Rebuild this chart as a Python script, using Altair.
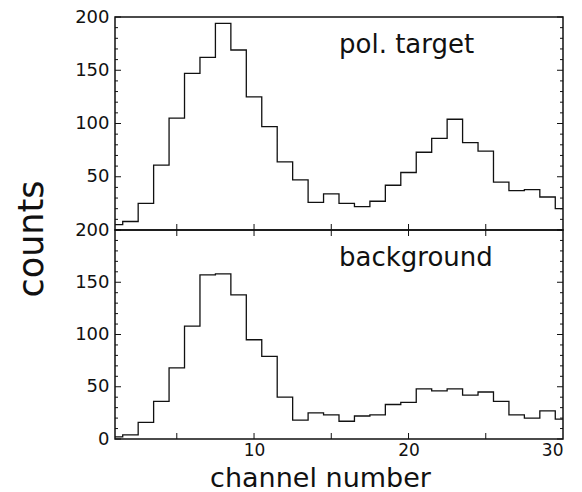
import altair as alt
import pandas as pd

# ---- data ----
CHANNELS = list(range(1, 31))
POL_TARGET = [5, 8, 25, 61, 105, 147, 162, 194, 169, 125, 97, 64, 47, 26, 34,
              25, 22, 27, 42, 54, 73, 86, 104, 82, 74, 45, 37, 38, 31, 20]
BACKGROUND = [2, 4, 16, 36, 68, 108, 157, 158, 138, 95, 79, 40, 18, 25, 23,
              17, 22, 23, 33, 35, 48, 46, 48, 42, 45, 36, 23, 20, 27, 19]

Y_MAJOR = [0, 50, 100, 150, 200]
Y_MINOR = [v for v in range(0, 201, 10) if v % 50 != 0]
X_TICKS = [5, 10, 15, 20, 25]
X_LABELS = [10, 20, 30]
TOP_LABELS = [50, 100, 150, 200]
BOT_LABELS = [0, 50, 100, 150, 200]

FONT = "DejaVu Sans"
INK = "#111111"
W = 448
H_TOP = 213
H_BOT = 209

xscale = alt.Scale(domain=[1, 30], nice=False, zero=False)
yscale = alt.Scale(domain=[0, 200], nice=False)

ymaj = pd.DataFrame({"v": Y_MAJOR})
ymin = pd.DataFrame({"v": Y_MINOR})
xt = pd.DataFrame({"v": X_TICKS})


def panel(values, label_vals, h, name, show_x, extra=None):
    df = pd.DataFrame({"channel": CHANNELS, "counts": values})
    xtitle = "channel number" if show_x else None
    if show_x:
        xax = alt.Axis(values=X_LABELS, title=xtitle, titleFontSize=27,
                       titleFont=FONT, titleFontWeight="normal", titleColor=INK,
                       titleX=205, titleY=47, titleBaseline="alphabetic",
                       titleAlign="center", titleAnchor="start",
                       labelPadding=3, labelFontSize=17, format="d")
    else:
        xax = None
    yax = alt.Axis(values=label_vals, title=None, labelPadding=6)

    line = alt.Chart(df).mark_line(interpolate="step", color=INK, strokeWidth=1.3).encode(
        x=alt.X("channel:Q", scale=xscale, axis=xax, title=xtitle),
        y=alt.Y("counts:Q", scale=yscale, axis=yax, title=None),
    )
    layers = [line]
    for d, ln in ((ymaj, 6), (ymin, 3)):
        base = alt.Chart(d).mark_rule(color=INK, strokeWidth=1)
        enc_y = alt.Y("v:Q", scale=yscale, axis=yax, title=None)
        layers.append(base.encode(y=enc_y, x=alt.value(0), x2=alt.value(ln)))
        layers.append(base.encode(y=enc_y, x=alt.value(W - ln), x2=alt.value(W)))

    def xticks(y0, y1):
        return alt.Chart(xt).mark_rule(color=INK, strokeWidth=1).encode(
            x=alt.X("v:Q", scale=xscale, axis=xax, title=xtitle),
            y=alt.value(y0), y2=alt.value(y1))

    layers.append(xticks(h, h - 6))
    if show_x:
        layers.append(xticks(0, 6))

    txt = alt.Chart(pd.DataFrame({"t": [name]})).mark_text(
        align="left", baseline="alphabetic", font=FONT, fontSize=26, color=INK
    ).encode(text="t:N", x=alt.value(224), y=alt.value(36))
    layers.append(txt)
    if extra is not None:
        layers.append(extra)
    return alt.layer(*layers).properties(width=W, height=h)


counts_label = alt.Chart(pd.DataFrame({"t": ["counts"]})).mark_text(
    align="center", baseline="alphabetic", angle=270, font=FONT, fontSize=35,
    color=INK
).encode(text="t:N", x=alt.value(-72), y=alt.value(H_TOP + 9))

top = panel(POL_TARGET, TOP_LABELS, H_TOP, "pol. target", False, counts_label)
bot = panel(BACKGROUND, BOT_LABELS, H_BOT, "background", True)

chart = alt.vconcat(top, bot, spacing=0, bounds="flush").properties(
    padding={"left": 14, "top": 7, "right": 8, "bottom": 2},
    background="white",
).configure_view(stroke=INK, strokeWidth=1.5).configure_axis(
    grid=False, ticks=False, domain=False, labelFont=FONT, labelFontSize=18,
    labelColor=INK,
)

chart.save("out.html", embed_options={"renderer": "svg", "actions": False})
